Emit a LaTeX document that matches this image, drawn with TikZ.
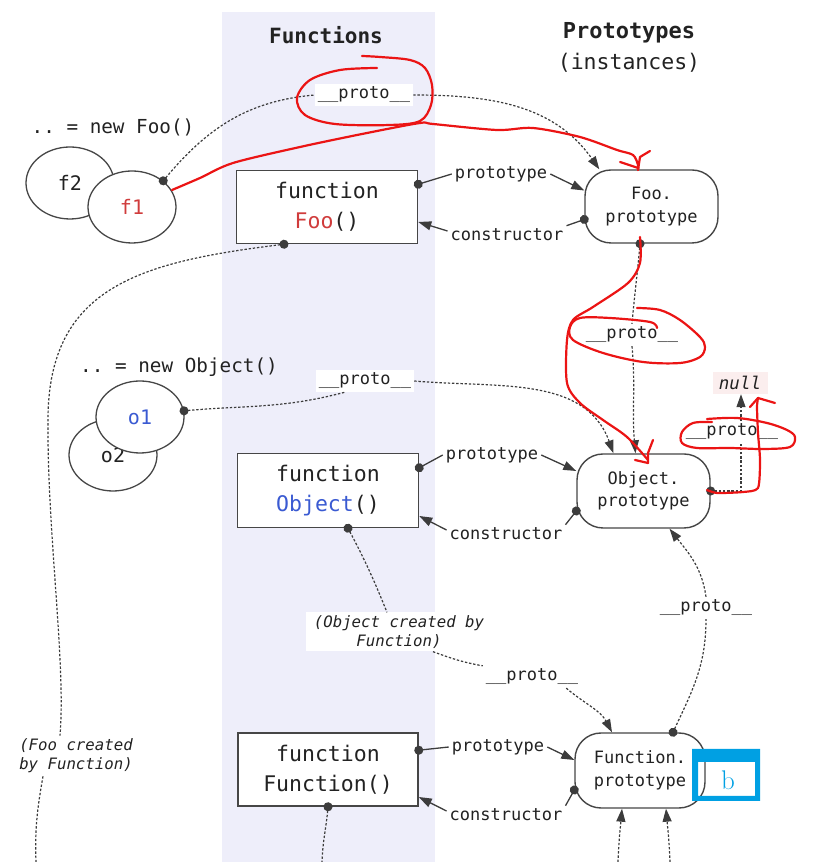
\documentclass[tikz,border=0pt]{standalone}
\usepackage{fontspec}
\setmonofont{DejaVu Sans Mono}
\usetikzlibrary{shapes.geometric,arrows.meta}
\definecolor{bandc}{RGB}{238,238,250}
\definecolor{txtc}{RGB}{34,34,34}
\definecolor{linec}{RGB}{60,60,60}
\definecolor{boxc}{RGB}{70,70,70}
\definecolor{fooc}{RGB}{208,60,60}
\definecolor{objc}{RGB}{58,90,210}
\definecolor{nullc}{RGB}{251,238,238}
\definecolor{inkc}{RGB}{235,20,20}
\definecolor{bluec}{RGB}{0,160,227}
\newcommand\fsz[2]{\fontsize{#1}{#2}\selectfont}
\begin{document}
\begin{tikzpicture}[x=1pt,y=1pt,
  every node/.style={text=txtc},
  fnbox/.style={draw=boxc, line width=1.5pt, fill=white, minimum width=181pt, minimum height=73pt, align=center, font=\ttfamily\fsz{21.5}{30}, inner sep=0pt},
  pbox/.style={draw=boxc, line width=1.4pt, fill=white, rounded corners=26pt, minimum width=133pt, minimum height=74pt, align=center, font=\ttfamily\fsz{17}{22.5}, inner sep=0pt},
  ell/.style={ellipse, draw=boxc, fill=white, line width=1.3pt, minimum width=88pt, minimum height=72pt, font=\ttfamily\fsz{20}{24}, inner sep=0pt},
  lbl/.style={font=\ttfamily\fsz{17}{20}, fill=white, inner sep=3pt},
  ilbl/.style={font=\ttfamily\itshape\fsz{15.7}{19}, fill=white, inner xsep=8pt, inner ysep=3pt},
  dl/.style={draw=linec, line width=1.2pt, dash pattern=on 2.4pt off 1.8pt},
  sl/.style={draw=linec, line width=1.3pt},
  dotS/.style={arrows={{Circle[length=9pt]}-}, shorten <=-4.5pt},
  arr/.style={arrows={-{Triangle[length=13pt,width=9pt]}}},
  dotarr/.style={arrows={{Circle[length=9pt]}-{Triangle[length=13pt,width=9pt]}}, shorten <=-4.5pt},
  redink/.style={draw=inkc, line width=2.2pt, line cap=round, line join=round}
]
\useasboundingbox (0,0) rectangle (814,862);
\fill[bandc] (222,0) rectangle (435,850);

% headings
\node[font=\ttfamily\bfseries\fsz{21}{26}] (hdrF) at (326,827) {Functions};
\node[font=\ttfamily\bfseries\fsz{22}{26}] (hdrP) at (629,829) {Prototypes};
\node[font=\ttfamily\fsz{21.5}{26}] (hdrI) at (629,799) {(instances)};

% instances
\node[font=\ttfamily\fsz{19.3}{24}] (newFoo) at (113,735) {.. = new Foo()};
\node[font=\ttfamily\fsz{19.3}{24}] (newObj) at (179,495) {.. = new Object()};
\node[ell] (f2) at (70,679) {f2};
\node[ell, text=fooc] (f1) at (132,655) {f1};
\node[ell] (o2) at (113,407) {o2};
\node[ell, text=objc] (o1) at (140,445) {o1};

% functions
\node[fnbox] (fooFn) at (327,655) {function\\\textcolor{fooc}{Foo}()};
\node[fnbox, minimum height=74pt] (objFn) at (328,371.5) {function\\\textcolor{objc}{Object}()};
\node[fnbox, minimum width=180pt] (funcFn) at (328,92.5) {function\\Function()};

% prototypes
\node[pbox, minimum height=73pt] (fooP) at (651.5,655.5) {Foo.\\prototype};
\node[pbox] (objP) at (643.5,371) {Object.\\prototype};
\node[pbox, minimum width=130pt, minimum height=75pt] (funcP) at (640,91.5) {Function.\\prototype};

% labels
\node[lbl] (p1) at (364,767) {\_\_proto\_\_};
\node[lbl] (ptype1) at (501,688) {prototype};
\node[lbl] (ctor1) at (507,627) {constructor};
\node[lbl] (p2) at (365,481) {\_\_proto\_\_};
\node[lbl] (p3) at (632,527) {\_\_proto\_\_};
\node[lbl] (ptype2) at (492,407) {prototype};
\node[lbl] (ctor2) at (506,328) {constructor};
\node[lbl] (p6) at (732,430) {\_\_proto\_\_};
\node[font=\ttfamily\itshape\fsz{17.5}{20}, fill=nullc, minimum width=55pt, minimum height=22pt, inner sep=0pt] (null) at (740,479) {null};
\node[lbl] (p7) at (706,254) {\_\_proto\_\_};
\node[lbl] (p4) at (532,185) {\_\_proto\_\_};
\node[ilbl, align=center] (objLbl) at (399,230) {(Object created by\\Function)};
\node[ilbl, align=left, fill=none, inner xsep=2pt] (fooLbl) at (76,106) {(Foo created\\by Function)};
\node[lbl] (ptype3) at (498,115) {prototype};
\node[lbl] (ctor3) at (506,47) {constructor};

% free ends
\coordinate (fooEnd) at (36,0);
\coordinate (funcEnd) at (322,0);
\coordinate (inA) at (618,0);
\coordinate (inB) at (670,0);

% Foo row
\draw[dl,dotS] (f1.40) to[out=50,in=185] (p1.west);
\draw[dl,arr] (p1.east) to[out=0,in=125] ([xshift=15pt]fooP.north west);
\draw[sl,dotS] (fooFn.14) -- (ptype1.west);
\draw[sl,arr] (ptype1.east) -- ([yshift=16pt]fooP.west);
\draw[sl,dotS] ([yshift=-13pt]fooP.west) -- (ctor1.north east);
\draw[sl,arr] ([yshift=4pt]ctor1.west) -- ([yshift=-15pt]fooFn.east);
\draw[dl,dotS] ([xshift=-11.5pt]fooP.south) to[out=-95,in=85] (p3.north);
\draw[dl,arr] (p3.south) to[out=-85,in=95] ([xshift=-8pt]objP.north);

% long Foo created by Function curve
\draw[dl,dotS] ([xshift=-43pt]fooFn.south) .. controls (140,600) and (48,575) .. (48,442)
  .. controls (47,330) and (66,200) .. ([xshift=-16pt]fooLbl.north);
\draw[dl] ([xshift=-33pt]fooLbl.south) to[out=-100,in=92] (fooEnd);

% Object row
\draw[dl,dotS] (o1.8) to[out=5,in=195] ([xshift=-20pt]p2.south);
\draw[dl,arr] (p2.east) to[out=-5,in=110] ([xshift=-30pt]objP.north);
\draw[sl,dotS] (objFn.14) -- (ptype2.west);
\draw[sl,arr] (ptype2.east) -- ([yshift=20pt]objP.west);
\draw[sl,dotS] ([yshift=-20pt]objP.west) -- (ctor2.north east);
\draw[sl,arr] ([yshift=4pt]ctor2.west) -- ([yshift=-25.5pt]objFn.east);
\draw[dl,dotS] (objP.east) -| ([xshift=9pt]p6.south);
\draw[dl,arr] ([xshift=9pt]p6.north) -- ([xshift=1pt]null.south);

% Object created by Function
\draw[dl,dotS] ([xshift=20pt]objFn.south) to[out=-62,in=112] ([xshift=-12pt]objLbl.north);
\draw[dl] ([xshift=34pt]objLbl.south) to[out=-20,in=170] (p4.north west);
\draw[dl,arr] ([xshift=-15pt]p4.south east) to[out=-40,in=118] ([xshift=-28pt]funcP.north);
\draw[dl,dotS] ([xshift=33pt]funcP.north) to[out=65,in=-90] (p7.south);
\draw[dl,arr] (p7.north) to[out=98,in=-52] ([xshift=26pt]objP.south);

% Function row
\draw[sl,dotS] (funcFn.12) -- (ptype3.west);
\draw[sl,arr] (ptype3.east) -- ([yshift=10.5pt]funcP.west);
\draw[sl,dotS] ([yshift=-19.5pt]funcP.west) -- (ctor3.north east);
\draw[sl,arr] ([yshift=4pt]ctor3.west) -- ([yshift=-27.5pt]funcFn.east);
\draw[dl,dotS] (funcFn.south) to[out=-95,in=88] (funcEnd);
\draw[dl,arr] (inA) to[out=88,in=-95] ([xshift=-18pt]funcP.south);
\draw[dl,arr] (inB) to[out=92,in=-85] ([xshift=26pt]funcP.south);

% red hand annotations
\draw[redink] plot[smooth, tension=0.55] coordinates {(377,794) (340,792) (310,782) (297,764) (305,747) (335,738) (390,737) (420,741) (431,757) (432,777) (425,794) (410,802) (380,805) (362,806)};
\draw[redink] plot[smooth, tension=0.5] coordinates {(172,672) (200,684) (233,699) (300,715) (367,729) (420,739) (433,738) (497,732) (533,734) (580,725) (617,712) (633,707) (638,697) (638,692)};
\draw[redink] (620,700) -- (638,694);
\draw[redink] (650,711) -- (640,705) -- (638,692);
\draw[redink] plot[smooth, tension=0.5] coordinates {(640,625) (640,599) (628,579) (593,555) (573,542) (567,522) (567,479) (580,459) (603,442) (627,425) (648,402)};
\draw[redink] (635,402) -- (648,399);
\draw[redink] (653,422) -- (648,409) -- (648,399);
\draw[redink] plot[smooth, tension=0.55] coordinates {(637,554) (660,552) (680,542) (700,525) (705,515) (700,505) (680,499) (643,500) (603,509) (573,522) (570,535) (580,544) (610,544) (650,540) (657,534)};
\draw[redink] plot[smooth, tension=0.55] coordinates {(712,440) (693,439) (682,430) (682,419) (697,414) (730,414) (763,413) (790,415) (795,425) (787,432) (767,439) (737,444) (707,443)};
\draw[redink] plot[smooth, tension=0.4] coordinates {(707,372) (717,369) (743,370) (758,374) (760,402) (758,429) (757,455) (758,464)};
\draw[redink] (750,455) -- (758,464) -- (775,459);

% blue marker box
\fill[bluec, even odd rule] (692,61) rectangle (760,113) (698,66) rectangle (755,100);
\node[text=bluec, font=\fsz{27}{30}] (bmark) at (728,82) {b};
\end{tikzpicture}
\end{document}
